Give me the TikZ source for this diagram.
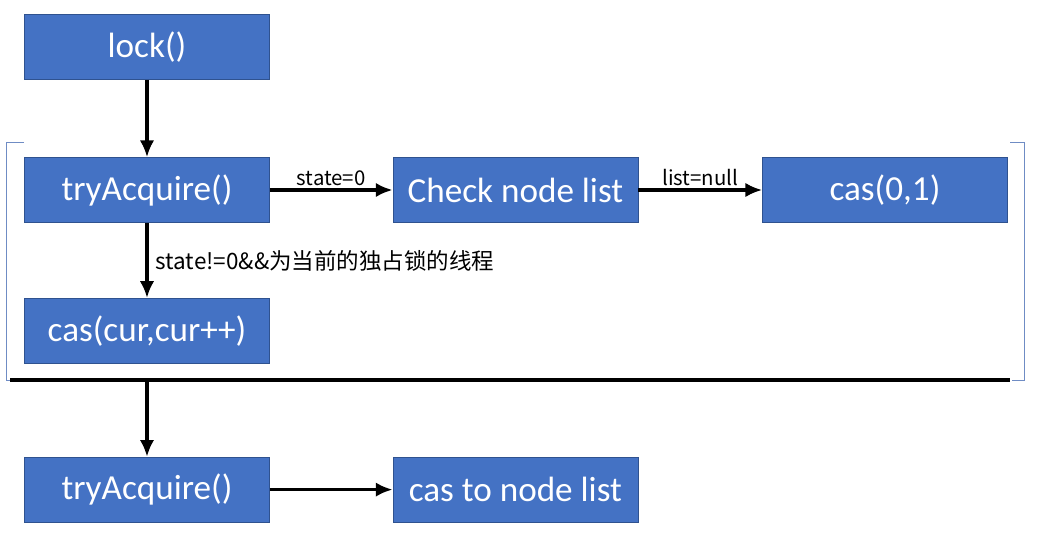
\documentclass[tikz,border=0pt]{standalone}
\usepackage{fontspec}
\setmainfont{Carlito}
\newfontfamily\cjkfont{Noto Sans CJK SC}
\usetikzlibrary{arrows.meta}

\definecolor{boxfill}{HTML}{4472C4}
\definecolor{boxline}{HTML}{2F528F}
\definecolor{bracketline}{HTML}{6F8CC4}

\tikzset{
    stepbox/.style = {draw = boxline, fill = boxfill, text = white,
                      minimum width = 6.125cm, minimum height = 1.625cm,
                      inner sep = 0pt, font = \fontsize{25}{30}\selectfont},
    flow/.style    = {line width = 2.6pt, -{Latex[length = 4.2mm, width = 3.6mm]}},
    cond/.style    = {font = \fontsize{14.5}{17}\selectfont\cjkfont, inner sep = 2pt}
}

\begin{document}
\begin{tikzpicture}
        \useasboundingbox (0.0, 0.0) rectangle (26.0, -13.6);

        \node [stepbox] (lock)     at (3.675, -1.175)  {lock()};
        \node [stepbox] (try)      at (3.675, -4.75)   {tryAcquire()};
        \node [stepbox] (check)    at (12.885, -4.75)  {Check node list};
        \node [stepbox] (casone)   at (22.125, -4.75)  {cas(0,1)};
        \node [stepbox] (cascur)   at (3.675, -8.27)   {cas(cur,cur++)};
        \node [stepbox] (tryagain) at (3.675, -12.24)  {tryAcquire()};
        \node [stepbox] (casnode)  at (12.885, -12.24) {cas to node list};

        \coordinate (barleft)  at (0.25, -9.5);
        \coordinate (barright) at (25.25, -9.5);

        % brackets round the first try
        \draw [bracketline, line width = 0.6pt]
              (0.6, -3.55) -- (0.15, -3.55) -- (0.15, -9.5) -- (0.35, -9.5);
        \draw [bracketline, line width = 0.6pt]
              (25.25, -3.55) -- (25.62, -3.55) -- (25.62, -9.5) -- (25.3, -9.5);

        \draw [line width = 2.6pt] (barleft) -- (barright);

        \draw [flow] (lock) -- (try);
        \draw [flow] (try) -- node [cond, above] {state=0} (check);
        \draw [flow] (check) -- node [cond, above] {list=null} (casone);
        \draw [flow] (try) -- node [cond, right, xshift = 0.1cm,
                                    font = \fontsize{16}{19}\selectfont\cjkfont]
              {state!=0\&\&为当前的独占锁的线程} (cascur);
        \draw [flow] (tryagain |- barleft) -- (tryagain); % bar -> second try
        \draw [flow] (tryagain) -- (casnode);
\end{tikzpicture}
\end{document}
